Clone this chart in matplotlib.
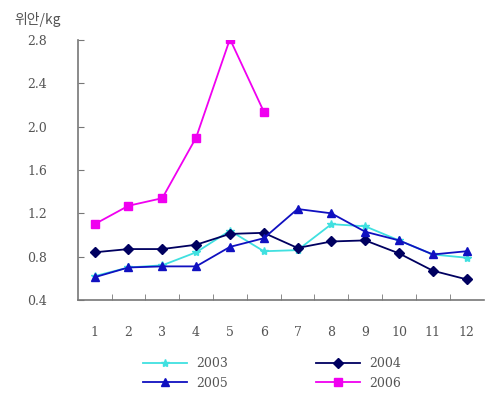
import matplotlib.pyplot as plt
import numpy as np

months = [1, 2, 3, 4, 5, 6, 7, 8, 9, 10, 11, 12]
y2003 = [0.62, 0.70, 0.72, 0.84, 1.04, 0.85, 0.86, 1.10, 1.08, 0.95, 0.82, 0.79]
y2004 = [0.84, 0.87, 0.87, 0.91, 1.01, 1.02, 0.88, 0.94, 0.95, 0.83, 0.67, 0.59]
y2005 = [0.61, 0.70, 0.71, 0.71, 0.89, 0.97, 1.24, 1.20, 1.03, 0.95, 0.82, 0.85]
months_2006 = [1, 2, 3, 4, 5, 6]
y2006 = [1.10, 1.27, 1.34, 1.90, 2.81, 2.14]
yticks = [0.4, 0.8, 1.2, 1.6, 2.0, 2.4, 2.8]

fig = plt.figure(figsize=(4.86, 4.01), dpi=100)
ax = fig.add_axes([0.160, 0.252, 0.835, 0.648])

l03, = ax.plot(months, y2003, color="#40E0E0", marker="*", markersize=6, lw=1.3, label="2003")
l04, = ax.plot(months, y2004, color="#000060", marker="D", markersize=5, lw=1.3, label="2004")
l05, = ax.plot(months, y2005, color="#1010C0", marker="^", markersize=6, lw=1.3, label="2005")
l06, = ax.plot(months_2006, y2006, color="#F000F0", marker="s", markersize=5.5, lw=1.3, label="2006")

ax.set_xlim(0.5, 12.5)
ax.set_ylim(0.4, 2.8)
ax.set_yticks(yticks)
ax.set_yticklabels(["%.1f" % v for v in yticks], family="DejaVu Serif", fontsize=9, color="#555555")
ax.set_xticks(months)
ax.set_xticklabels([str(m) for m in months], family="DejaVu Serif", fontsize=9, color="#555555")
ax.set_xticks(np.arange(1.5, 12.5, 1), minor=True)
ax.tick_params(axis="x", which="major", length=0, pad=19)
ax.tick_params(axis="x", which="minor", direction="in", length=4, color="#777777")
ax.tick_params(axis="y", direction="in", length=4, color="#777777", pad=22)

for s in ["top", "right"]:
    ax.spines[s].set_visible(False)
for s in ["left", "bottom"]:
    ax.spines[s].set_color("#777777")
    ax.spines[s].set_linewidth(1.2)

fig.text(0.03, 0.94, "위안/kg", family=["Noto Sans CJK KR", "DejaVu Sans"], fontsize=10, color="#555555")

# row 1: 2003, 2004 ; row 2: 2005, 2006 (legend fills by column)
leg = fig.legend([l03, l05, l04, l06], ["2003", "2005", "2004", "2006"],
                 loc="lower center", bbox_to_anchor=(0.56, 0.0), ncol=2, frameon=False,
                 handlelength=3.5, columnspacing=7, labelspacing=0.55,
                 prop={"family": "DejaVu Serif", "size": 9})
for t in leg.get_texts():
    t.set_color("#555555")

fig.savefig("out.png", dpi=100)
